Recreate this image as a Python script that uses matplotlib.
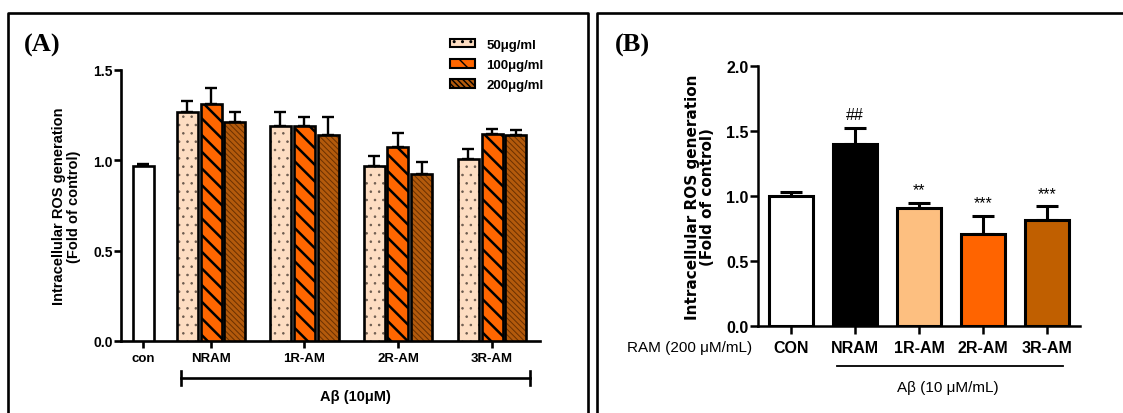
import matplotlib
matplotlib.use("Agg")
import matplotlib.pyplot as plt
import numpy as np
from matplotlib.lines import Line2D
from matplotlib.patches import Patch
from matplotlib import font_manager

# ---------------- data ----------------
# Panel A
a_groups = ["con", "NRAM", "1R-AM", "2R-AM", "3R-AM"]
a_con_mean = 0.97
a_con_err = 0.01
a_series = ["50\u03bcg/ml", "100\u03bcg/ml", "200\u03bcg/ml"]
a_50_mean = [1.27, 1.19, 0.97, 1.01]
a_50_err = [0.06, 0.08, 0.055, 0.05]
a_100_mean = [1.31, 1.19, 1.075, 1.145]
a_100_err = [0.09, 0.05, 0.075, 0.03]
a_200_mean = [1.21, 1.14, 0.925, 1.14]
a_200_err = [0.06, 0.10, 0.065, 0.03]

# Panel B
b_groups = ["CON", "NRAM", "1R-AM", "2R-AM", "3R-AM"]
b_mean = [1.00, 1.40, 0.905, 0.705, 0.815]
b_err = [0.03, 0.125, 0.045, 0.145, 0.105]
b_marks = ["", "##", "**", "***", "***"]

# ---------------- helpers ----------------
W, H = 1123, 414
fig = plt.figure(figsize=(W / 100, H / 100), dpi=100)

def fx(x):
    return x / W

def fy(y):
    return 1 - y / H

available = {f.name for f in font_manager.fontManager.ttflist}
SANS = "Liberation Sans" if "Liberation Sans" in available else "DejaVu Sans"
NARROW = "Liberation Sans Narrow" if "Liberation Sans Narrow" in available else SANS
SERIF = "Liberation Serif" if "Liberation Serif" in available else "DejaVu Serif"
plt.rcParams['font.family'] = [SANS, 'DejaVu Sans']

def add_axes_px(left, right, top, bottom):
    return fig.add_axes([fx(left), fy(bottom), (right - left) / W, (bottom - top) / H])

def hatched_bars(ax, x, h, width, face, hatch, hatchcol, hlw, edge_lw, zorder=3):
    old = plt.rcParams['hatch.linewidth']
    plt.rcParams['hatch.linewidth'] = hlw
    bars = ax.bar(x, h, width, color=face, edgecolor=hatchcol, hatch=hatch,
                  linewidth=0, zorder=zorder)
    for p in bars:
        if hasattr(p, "set_hatch_linewidth"):
            p.set_hatch_linewidth(hlw)
    plt.rcParams['hatch.linewidth'] = old
    ax.bar(x, h, width, facecolor='none', edgecolor='black', linewidth=edge_lw,
           zorder=zorder + 0.5)
    return bars

# ---------------- figure frames ----------------
lw_box = 1.9
fig.add_artist(Line2D([fx(8), fx(8), fx(588), fx(588)], [fy(414), fy(14), fy(14), fy(414)],
                      transform=fig.transFigure, color='black', lw=lw_box))
fig.add_artist(Line2D([fx(597), fx(597), fx(1123)], [fy(414), fy(14), fy(14)],
                      transform=fig.transFigure, color='black', lw=lw_box))
fig.text(fx(24), fy(45), "(A)", family=SERIF, weight='bold', fontsize=19, va='center', ha='left')
fig.text(fx(615), fy(45), "(B)", family=SERIF, weight='bold', fontsize=19, va='center', ha='left')

# ---------------- Panel A ----------------
axA = add_axes_px(121, 540, 71, 342)
grp_pos = np.array([3.24, 7.67, 12.14, 16.62])
con_pos = 0.0
off = 1.14
bw = 1.0

col50, col100, col200 = "#FDDDC2", "#FF6600", "#B35A0C"
h50, h100, h200 = '..', '\\\\', '\\\\\\\\\\\\'

axA.bar([con_pos], [a_con_mean], bw, facecolor='white', edgecolor='black', linewidth=1.9, zorder=3)
hatched_bars(axA, grp_pos - off, a_50_mean, bw, col50, h50, '#6b5a4e', 0.6, 1.9)
hatched_bars(axA, grp_pos, a_100_mean, bw, col100, h100, 'black', 1.8, 1.9)
hatched_bars(axA, grp_pos + off, a_200_mean, bw, col200, h200, '#6A3000', 0.7, 1.9)

ekw = dict(fmt='none', ecolor='black', elinewidth=1.7, capsize=4.2, capthick=1.7, zorder=2)
axA.errorbar([con_pos], [a_con_mean], yerr=[[0], [a_con_err]], **ekw)
axA.errorbar(grp_pos - off, a_50_mean, yerr=[np.zeros(4), a_50_err], **ekw)
axA.errorbar(grp_pos, a_100_mean, yerr=[np.zeros(4), a_100_err], **ekw)
axA.errorbar(grp_pos + off, a_200_mean, yerr=[np.zeros(4), a_200_err], **ekw)

axA.set_xlim((121 - 143) / 21, (540 - 143) / 21)
axA.set_ylim(0, 1.5)
axA.set_yticks([0.0, 0.5, 1.0, 1.5])
axA.set_yticklabels(["0.0", "0.5", "1.0", "1.5"])
axA.set_xticks([con_pos] + list(grp_pos))
axA.set_xticklabels(a_groups)
for s in ["top", "right"]:
    axA.spines[s].set_visible(False)
for s in ["left", "bottom"]:
    axA.spines[s].set_linewidth(1.9)
axA.tick_params(axis='y', direction='out', length=5, width=1.9, pad=1, labelsize=10)
axA.tick_params(axis='x', direction='out', length=5, width=1.9, pad=3, labelsize=9.5)
for t in axA.get_yticklabels():
    t.set_fontweight('bold')
for t in axA.get_xticklabels():
    t.set_fontweight('bold')
axA.set_ylabel("Intracellular ROS generation\n(Fold of control)", fontsize=10.5,
               fontweight='bold', linespacing=1.05, labelpad=9)

# A-beta bracket
xt = axA.get_xaxis_transform()
x0, x1 = (181 - 143) / 21, (530 - 143) / 21
ybr = -(379 - 342) / 271
axA.plot([x0, x1], [ybr, ybr], transform=xt, color='black', lw=1.9, clip_on=False)
for xx in (x0, x1):
    axA.plot([xx, xx], [ybr - 0.024, ybr + 0.024], transform=xt, color='black', lw=1.9, clip_on=False)
axA.text((x0 + x1) / 2, -(397 - 342) / 271, "A\u03b2 (10\u03bcM)", transform=xt, ha='center',
         va='center', fontsize=10.5, fontweight='bold')

# legend
handles = [
    Patch(facecolor=col50, edgecolor='black', hatch=h50, linewidth=1.5),
    Patch(facecolor=col100, edgecolor='black', hatch=h100, linewidth=1.5),
    Patch(facecolor=col200, edgecolor='black', hatch=h200, linewidth=1.5),
]
leg = axA.legend(handles, a_series, loc='upper left', bbox_to_anchor=(fx(443), fy(33)),
                 bbox_transform=fig.transFigure, frameon=False, borderpad=0,
                 handlelength=1.9, handleheight=0.65, handletextpad=0.9, labelspacing=0.62,
                 prop={'family': SANS, 'weight': 'bold', 'size': 9.5})

# ---------------- Panel B ----------------
axB = add_axes_px(758, 1080, 66.7, 327.3)
xb = np.arange(len(b_groups))
bwB = 44 / 64
b_colors = ["white", "black", "#FDBF80", "#FF6400", "#C05F00"]
axB.bar(xb, b_mean, bwB, color=b_colors, edgecolor='black', linewidth=2.2, zorder=3)
axB.errorbar(xb, b_mean, yerr=[np.zeros(len(xb)), b_err], fmt='none', ecolor='black',
             elinewidth=2.2, capsize=8, capthick=2.2, zorder=2)
for xi, m, e, mk in zip(xb, b_mean, b_err, b_marks):
    if mk:
        axB.text(xi, m + e + 0.04, mk, ha='center', va='bottom', fontsize=11.5, family=SANS)

axB.set_xlim(-0.516, 4.516)
axB.set_ylim(0, 2.0)
axB.set_yticks([0.0, 0.5, 1.0, 1.5, 2.0])
axB.set_yticklabels(["0.0", "0.5", "1.0", "1.5", "2.0"])
axB.set_xticks(xb)
axB.set_xticklabels(b_groups)
for s in ["top", "right"]:
    axB.spines[s].set_visible(False)
for s in ["left", "bottom"]:
    axB.spines[s].set_linewidth(1.8)
axB.tick_params(axis='y', direction='out', length=6, width=1.8, pad=1, labelsize=11.5)
axB.tick_params(axis='x', direction='out', length=6, width=1.8, pad=4, labelsize=11.5)
for t in axB.get_yticklabels() + axB.get_xticklabels():
    t.set_family(NARROW)
    t.set_fontweight('bold')
axB.set_ylabel("Intracellular ROS generation\n(Fold of control)", fontsize=11,
               fontweight='bold', family='DejaVu Sans', linespacing=1.0, labelpad=8)

xtB = axB.get_xaxis_transform()
axB.text((752 - 791) / 64, -(348 - 327.3) / 260.6, "RAM (200 \u03bcM/mL)", transform=xtB,
         ha='right', va='center', fontsize=11, family=NARROW)
ybB = -(367 - 327.3) / 260.6
axB.plot([(837 - 791) / 64, (1063 - 791) / 64], [ybB, ybB], transform=xtB, color='black',
         lw=1.3, clip_on=False)
axB.text((948 - 791) / 64, -(388 - 327.3) / 260.6, "A\u03b2 (10 \u03bcM/mL)", transform=xtB,
         ha='center', va='center', fontsize=11, family=NARROW)

fig.savefig("out.png", dpi=100)
